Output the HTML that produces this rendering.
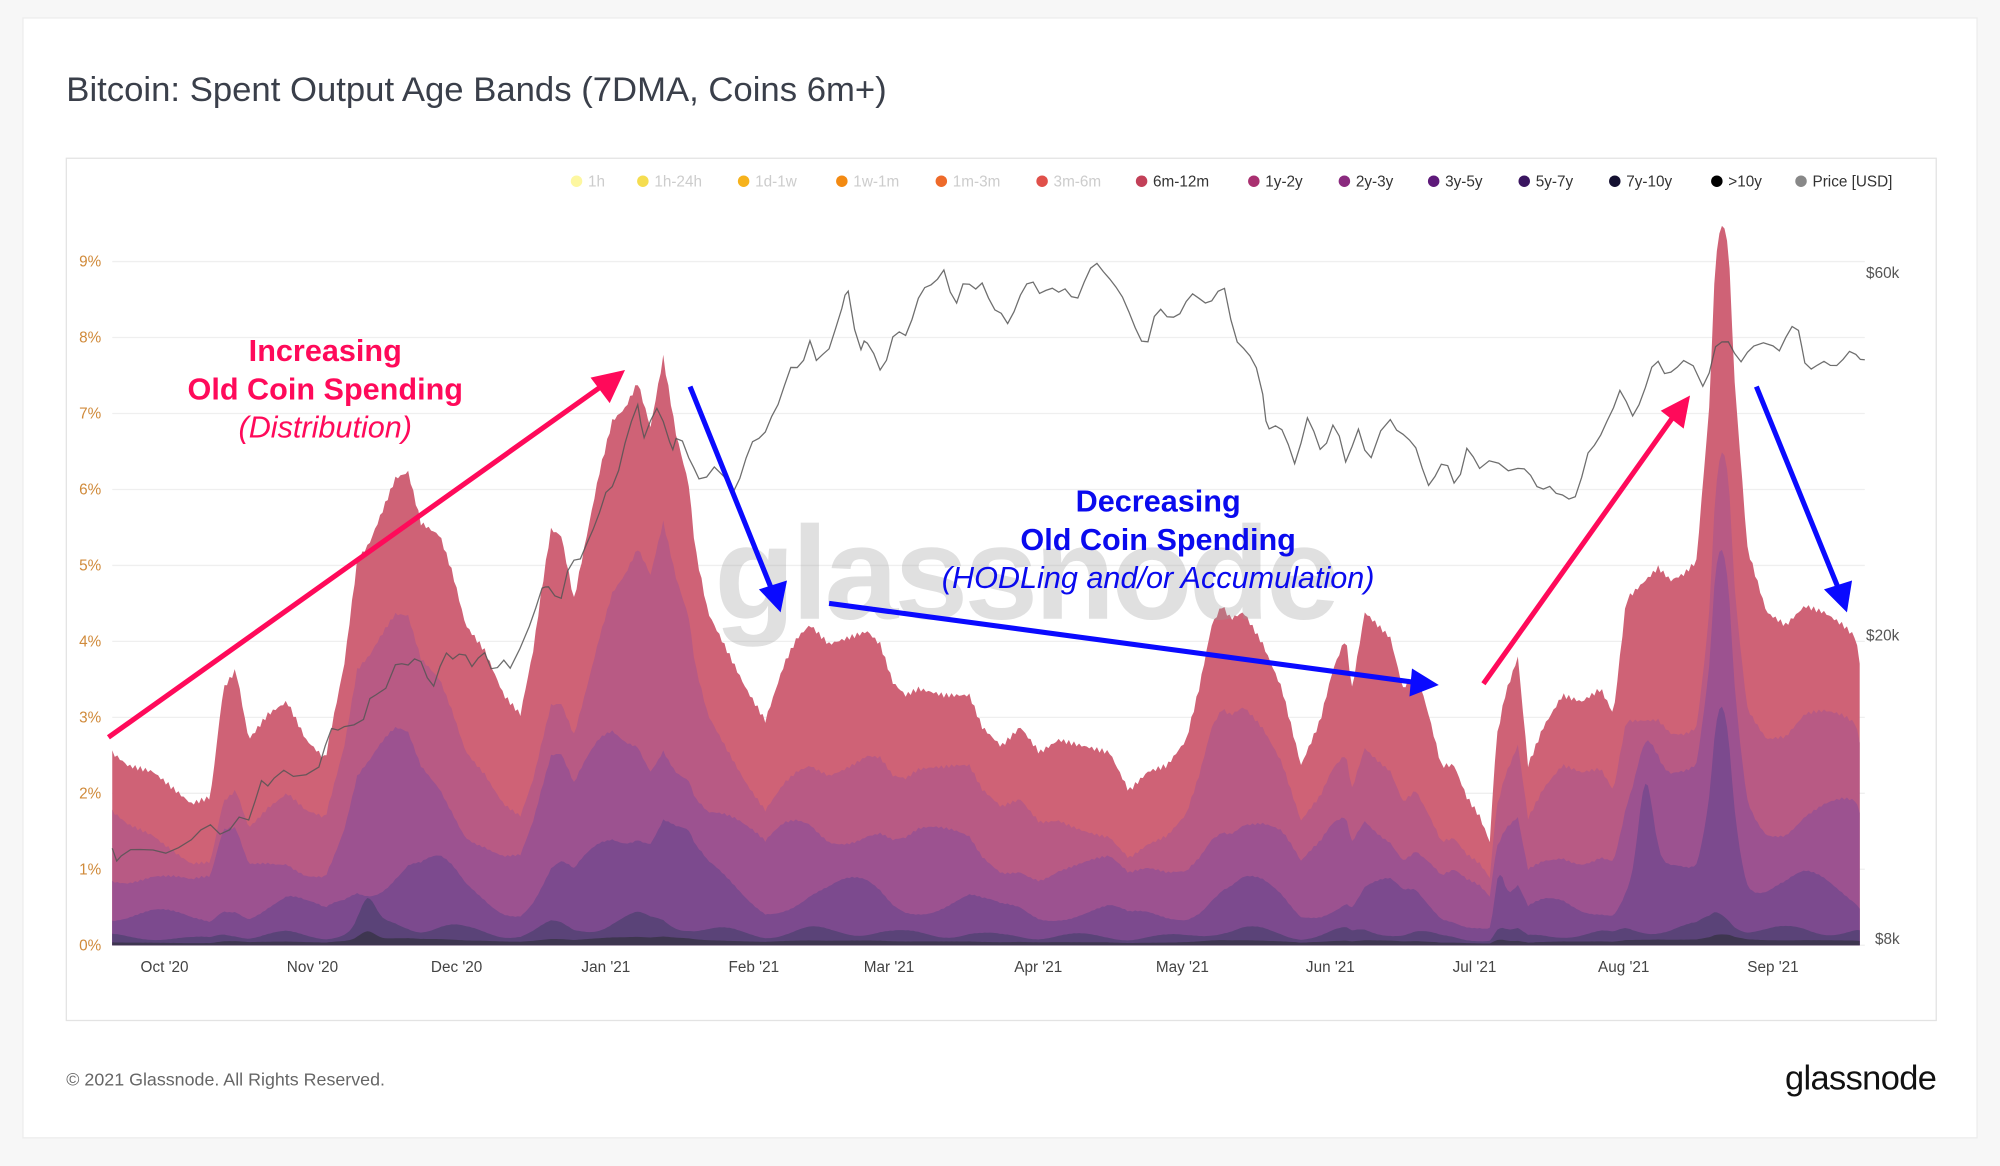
<!DOCTYPE html>
<html><head><meta charset="utf-8"><style>
html,body{margin:0;padding:0;background:#f7f7f7;}
svg{display:block;font-family:"Liberation Sans",sans-serif;}
</style></head><body>
<svg id="s" width="2000" height="1166" viewBox="0 0 1568 914" xmlns="http://www.w3.org/2000/svg">
<rect x="0" y="0" width="1568" height="914" fill="#f7f7f7"/>
<rect x="18" y="14" width="1532" height="878" fill="#fff" stroke="#ececec"/>
<text x="52" y="79" font-size="27.2" fill="#3a3f4a">Bitcoin: Spent Output Age Bands (7DMA, Coins 6m+)</text>
<rect x="52" y="124" width="1466" height="676" fill="#fff" stroke="#e3e3e3"/>
<g id="grid" stroke="#efefef" stroke-width="1"></g>
<g id="areas"></g>
<text x="560" y="485" font-size="104" font-weight="bold" fill="#9a9a9a" opacity="0.3" letter-spacing="-3">glassnode</text>
<path id="price" fill="none" stroke="#555" stroke-width="1" opacity="0.85"/>
<g id="ylab" font-size="12" fill="#d08a3a"></g>
<g font-size="12" fill="#555">
<text x="1463" y="218">$60k</text><text x="1463" y="502">$20k</text><text x="1470" y="740">$8k</text>
</g>
<g id="xlab" font-size="12" fill="#444" text-anchor="middle"></g>
<g id="legend" font-size="12"></g>
<g stroke-linecap="butt">
<line x1="85" y1="578" x2="474" y2="301" stroke="#ff0a5a" stroke-width="4"/>
<polygon points="490,290 463,296 478,316" fill="#ff0a5a"/>
<line x1="541" y1="303" x2="605" y2="462" stroke="#0a0aff" stroke-width="4"/>
<polygon points="612,480 595,462 617,455" fill="#0a0aff"/>
<line x1="650" y1="473" x2="1110" y2="535" stroke="#0a0aff" stroke-width="4"/>
<polygon points="1128,537 1107,524 1105,546" fill="#0a0aff"/>
<line x1="1163" y1="536" x2="1313" y2="325" stroke="#ff0a5a" stroke-width="4"/>
<polygon points="1325,310 1302,322 1320,336" fill="#ff0a5a"/>
<line x1="1377" y1="303" x2="1442" y2="463" stroke="#0a0aff" stroke-width="4"/>
<polygon points="1448,480 1430,462 1452,455" fill="#0a0aff"/>
</g>
<g text-anchor="middle" font-size="24">
<text x="255" y="283" fill="#ff0a5a" font-weight="bold">Increasing</text>
<text x="255" y="313" fill="#ff0a5a" font-weight="bold">Old Coin Spending</text>
<text x="255" y="343" fill="#ff0a5a" font-style="italic">(Distribution)</text>
<text x="908" y="401" fill="#0a0aee" font-weight="bold">Decreasing</text>
<text x="908" y="431" fill="#0a0aee" font-weight="bold">Old Coin Spending</text>
<text x="908" y="461" fill="#0a0aee" font-style="italic">(HODLing and/or Accumulation)</text>
</g>
<text x="52" y="851" font-size="14" fill="#666">© 2021 Glassnode. All Rights Reserved.</text>
<text x="1518" y="854" font-size="27" fill="#111" text-anchor="end" letter-spacing="-0.5">glassnode</text>
</svg>
<script>
var NS="http://www.w3.org/2000/svg";
function el(t,a,p,txt){var e=document.createElementNS(NS,t);for(var k in a)e.setAttribute(k,a[k]);if(txt)e.textContent=txt;document.getElementById(p).appendChild(e);return e;}
var base=741,step=(741-205)/9;
for(var i=0;i<=9;i++){var yy=base-i*step;el('line',{x1:88,x2:1462,y1:yy,y2:yy},'grid');el('text',{x:62,y:yy+4},'ylab',i+'%');}
var months=[["Oct '20",129],["Nov '20",245],["Dec '20",358],["Jan '21",475],["Feb '21",591],["Mar '21",697],["Apr '21",814],["May '21",927],["Jun '21",1043],["Jul '21",1156],["Aug '21",1273],["Sep '21",1390]];
months.forEach(function(m){el('text',{x:m[1],y:762},'xlab',m[0]);});
var leg=[["1h","#fdf7a0",452,1],["1h-24h","#f5dd50",504,1],["1d-1w","#f6b21c",583,1],["1w-1m","#f38a12",660,1],["1m-3m","#ee6a2a",738,1],["3m-6m","#e0504a",817,1],["6m-12m","#c24058",895,0],["1y-2y","#a93070",983,0],["2y-3y","#8a2a7e",1054,0],["3y-5y","#5e1a7a",1124,0],["5y-7y","#3a1560",1195,0],["7y-10y","#141030",1266,0],[">10y","#000",1346,0],["Price [USD]","#888",1412,0]];
leg.forEach(function(l){el('circle',{cx:l[2],cy:142,r:4.5,fill:l[1]},'legend');el('text',{x:l[2]+9,y:146,fill:l[3]?'#ccc':'#333'},'legend',l[0]);});
var env=[88,590,100,600,120,605,150,630,165,625,175,540,185,525,195,580,210,560,225,550,240,580,255,595,270,520,280,440,290,425,300,400,310,375,320,370,330,410,345,420,355,450,365,490,380,510,395,545,408,560,418,510,425,460,432,415,440,420,450,470,460,420,470,370,480,330,490,320,500,300,510,335,520,280,530,340,540,380,545,430,555,480,570,510,585,540,600,565,615,520,625,500,635,490,650,505,665,500,680,495,690,505,700,535,710,545,720,540,740,545,760,545,770,570,785,585,800,570,815,590,830,580,850,585,870,590,885,620,900,605,915,600,930,580,940,540,950,490,958,475,965,485,975,480,990,505,1005,540,1020,600,1035,565,1045,525,1055,500,1060,540,1070,480,1080,490,1090,500,1100,540,1110,525,1120,560,1130,600,1140,600,1150,625,1160,640,1168,660,1173,580,1180,545,1190,515,1198,600,1210,570,1225,545,1240,550,1255,540,1265,560,1275,470,1290,455,1300,445,1310,455,1320,450,1330,440,1340,320,1345,200,1350,175,1355,190,1360,300,1370,430,1385,480,1400,490,1415,475,1430,480,1445,490,1455,500,1458,520];
var xs=[],hs=[];
for(var x=88;x<=1458;x+=2){var j=0;while(j<env.length-4&&env[j+2]<x)j+=2;var x0=env[j],y0=env[j+1],x1=env[j+2],y1=env[j+3];var t=(x-x0)/(x1-x0);var y=y0+(y1-y0)*Math.max(0,Math.min(1,t));y+=Math.sin(x*1.7)*2;xs.push(x);hs.push(base-y);}
function g(x,c,w){return Math.exp(-Math.pow((x-c)/w,2));}
var fr=[
function(x){return 0.64+0.08*Math.sin(x/37)+0.12*g(x,1350,12);},
function(x){return 0.40+0.07*Math.sin(x/23+1)+0.15*g(x,1350,14)+0.12*g(x,1290,10);},
function(x){return 0.17+0.05*Math.sin(x/17)+0.2*g(x,1350,14)+0.08*g(x,520,40)+0.25*g(x,1290,8)+0.15*g(x,1175,5);},
function(x){return 0.045+0.015*Math.sin(x/11)+0.06*g(x,288,8)+0.03*g(x,1175,6);},
function(x){return 0.015+0.02*g(x,288,8)+0.01*g(x,1175,6);}
];
var cols=["#cf6276","#b85a84","#9c5290","#7c4a8e","#5a4378","#3e3650"];
function mkpath(f){var d="M88,"+base;for(var i=0;i<xs.length;i++){d+=" L"+xs[i]+","+(base-hs[i]*f(xs[i])).toFixed(1);}d+=" L1458,"+base+" Z";return d;}
el('path',{d:mkpath(function(){return 1;}),fill:cols[0]},'areas');
for(var k=0;k<fr.length;k++)el('path',{d:mkpath(fr[k]),fill:cols[k+1]},'areas');
var pr=[88,665,95,675,110,665,130,665,150,660,165,650,180,648,195,640,205,615,215,612,230,605,250,600,260,575,270,570,285,560,295,545,310,525,320,520,330,515,340,540,350,515,360,510,370,520,380,515,390,525,400,520,415,490,425,465,430,460,440,465,450,440,460,430,470,400,480,378,490,350,500,320,505,340,515,318,525,350,530,345,540,355,548,375,560,370,575,385,585,355,595,345,605,330,615,300,625,285,635,270,640,285,650,270,660,240,665,232,675,275,680,265,690,290,700,268,710,262,720,230,730,225,740,215,750,235,760,220,770,225,780,245,790,250,800,230,810,225,820,228,830,225,840,233,850,225,860,205,870,215,880,235,890,260,900,265,910,240,920,252,930,238,940,230,950,235,960,230,970,268,980,275,990,310,995,340,1005,335,1015,360,1025,330,1035,355,1045,330,1055,360,1065,340,1075,360,1090,325,1100,340,1110,355,1120,380,1130,360,1140,380,1150,355,1160,365,1175,360,1190,370,1200,375,1210,380,1220,385,1230,395,1240,375,1250,345,1260,330,1270,310,1280,325,1290,300,1300,285,1310,295,1320,280,1335,300,1345,275,1355,270,1365,280,1375,270,1390,275,1400,265,1410,255,1415,285,1425,290,1435,285,1445,278,1455,280,1462,282];
var d="";for(var i=0;i<pr.length;i+=2){var jit=(i>0&&i<pr.length-2)?Math.sin(i*2.3)*4:0;d+=(i?" L":"M")+pr[i]+","+(pr[i+1]+jit).toFixed(1);
if(i<pr.length-2){var mx=(pr[i]+pr[i+2])/2,my=(pr[i+1]+pr[i+3])/2+Math.cos(i*1.9)*5;d+=" L"+mx+","+my.toFixed(1);}}
document.getElementById('price').setAttribute('d',d);
</script>
</body></html>
